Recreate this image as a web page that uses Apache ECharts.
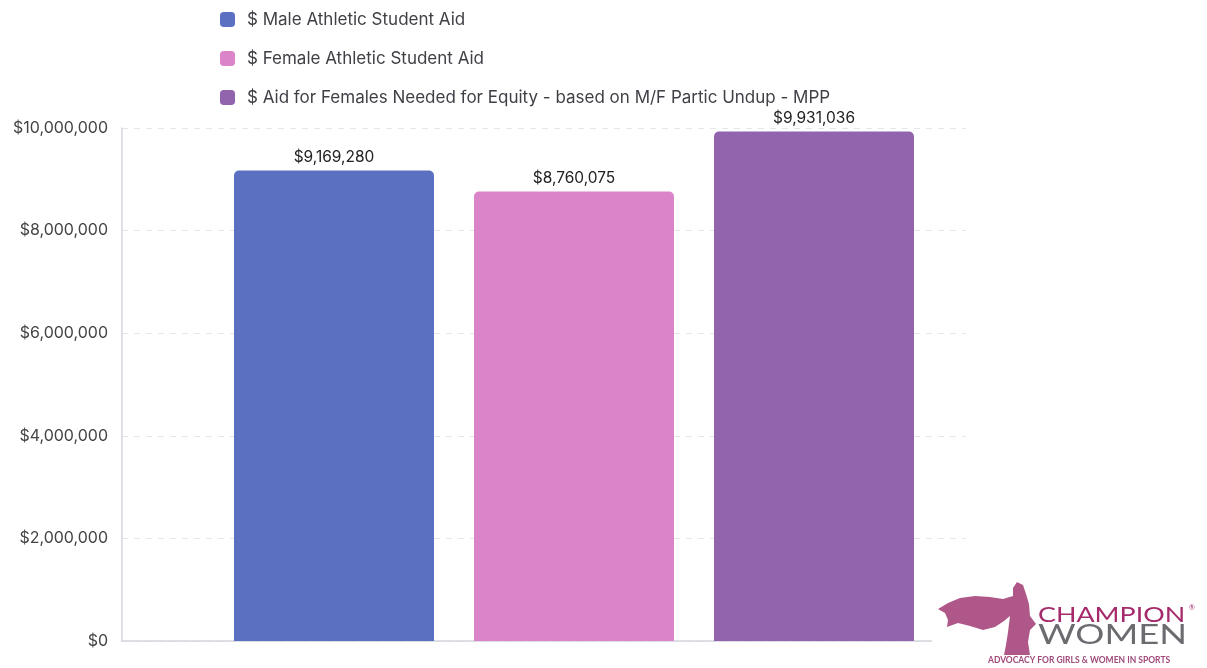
<!DOCTYPE html>
<html><head><meta charset="utf-8">
<script src="https://cdn.jsdelivr.net/npm/echarts@6/dist/echarts.min.js"></script>
<style>html,body{margin:0;padding:0;background:#fff}#c{width:1207px;height:668px}</style>
</head><body><div id="c"></div>
<script>
const categories = [''];
const seriesNames = ['$ Male Athletic Student Aid', '$ Female Athletic Student Aid', '$ Aid for Females Needed for Equity - based on M/F Partic Undup - MPP'];
const maleAid = [9169280];
const femaleAid = [8760075];
const equityAid = [9931036];
const colors = ['#5b70c1', '#db84c9', '#9264ae'];
const yTicks = [0, 2000000, 4000000, 6000000, 8000000, 10000000];

const fmt = v => '$' + Math.round(v).toLocaleString('en-US');
const font = 'Inter, "Noto Sans", sans-serif';
const seriesData = [maleAid, femaleAid, equityAid];

const chart = echarts.init(document.getElementById('c'), null, {renderer: 'canvas'});
chart.setOption({
  backgroundColor: '#fff',
  animation: false,
  legend: {
    orient: 'vertical', left: 215, top: 6, itemGap: 22, itemWidth: 15, itemHeight: 15,
    icon: 'roundRect',
    textStyle: {fontFamily: font, fontSize: 17, color: '#3f3f46', padding: [0, 0, 0, 7]},
    data: seriesNames
  },
  grid: {left: 122, right: 181, top: 128, bottom: 27},
  xAxis: {
    type: 'category', data: categories,
    axisLine: {lineStyle: {color: '#d3d6dd', width: 1.5}},
    axisTick: {show: false}, axisLabel: {show: false}
  },
  yAxis: {
    type: 'value', min: 0, max: 10000000, interval: 2000000,
    axisLine: {show: true, lineStyle: {color: '#d3d6dd', width: 1.5}},
    axisTick: {show: false},
    axisLabel: {formatter: v => fmt(v), fontFamily: font, fontSize: 16, color: '#444', margin: 14},
    splitLine: {lineStyle: {type: [6, 6], color: '#e6e6e6'}}
  },
  series: seriesNames.map((n, i) => ({
    name: n, type: 'bar', data: seriesData[i], barWidth: 200, barGap: '20%',
    itemStyle: {color: colors[i], borderRadius: [5, 5, 0, 0]},
    label: {show: true, position: 'top', distance: 5, formatter: p => fmt(p.value), fontFamily: font, fontSize: 15.5, color: '#222'}
  })),
  graphic: [
    {type: 'rect', left: 966, top: 100, shape: {width: 241, height: 540}, style: {fill: '#fff'}, z: 100},
    {type: 'rect', left: 932, top: 575, shape: {width: 275, height: 93}, style: {fill: '#fff'}, z: 100},
    {type: 'polygon', z: 101, shape: {points: [[1017,582],[1013,588],[1013,596],[1003,599],[990,597],[975,596],[960,598],[948,603],[938,609],[945,613],[948,620],[947,627],[958,623],[970,626],[983,630],[995,627],[1004,621],[1010,616],[1008,632],[1006,645],[1004,655],[1030,655],[1028,642],[1030,630],[1036,624],[1030,616],[1029,604],[1026,594],[1023,585]]},
      style: {fill: '#a23a74', opacity: 0.85}},
    {type: 'text', x: 1038, y: 604, scaleX: 1.22, z: 102, style: {text: 'CHAMPION', fontFamily: 'Lato, sans-serif', fontSize: 22, fill: '#a52a6b', verticalAlign: 'top'}},
    {type: 'text', x: 1189, y: 604, z: 102, style: {text: '®', fontFamily: 'Lato, sans-serif', fontSize: 7, fill: '#a52a6b', verticalAlign: 'top'}},
    {type: 'text', x: 1038, y: 623, scaleX: 1.4, z: 102, style: {text: 'WOMEN', fontFamily: 'Lato, sans-serif', fontSize: 26, fill: '#6b6b70', verticalAlign: 'top'}},
    {type: 'text', x: 988, y: 656, z: 102, style: {text: 'ADVOCACY FOR GIRLS & WOMEN IN SPORTS', fontFamily: 'Lato, sans-serif', fontSize: 8.5, fontWeight: 'bold', fill: '#a04a7a', verticalAlign: 'top'}}
  ]
});
</script></body></html>
